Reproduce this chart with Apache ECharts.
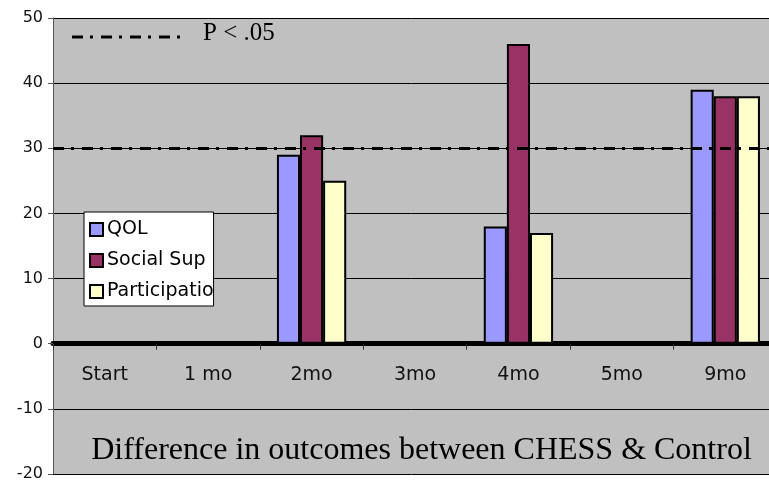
<!DOCTYPE html>
<html>
<head>
<meta charset="utf-8">
<script src="https://cdn.jsdelivr.net/npm/echarts@6/dist/echarts.min.js"></script>
<style>
html,body{margin:0;padding:0;background:#fff;}
#c{width:769px;height:483px;}
</style>
</head>
<body>
<div id="c"></div>
<script>
const categories = ['Start', '1 mo', '2mo', '3mo', '4mo', '5mo', '9mo'];
const qol = [0, 0, 29, 0, 18, 0, 39];
const socialSup = [0, 0, 32, 0, 46, 0, 38];
const participation = [0, 0, 25, 0, 17, 0, 38];
const pThreshold = 30;
const yTicks = { min: -20, max: 50, interval: 10 };
const chartTitle = 'Difference in outcomes between CHESS & Control';
const pLabel = 'P < .05';

const chart = echarts.init(document.getElementById('c'), null, { renderer: 'canvas' });
const dash = [11, 7, 3, 8];
const barBase = { type: 'bar', barGap: '0%', barCategoryGap: '33%' };

const gridTop = 18, gridHeight = 456;
// pixel distance from grid bottom to the zero line, derived from the y scale
const zeroOffset = gridHeight * (0 - yTicks.min) / (yTicks.max - yTicks.min);

chart.setOption({
  animation: false,
  grid: {
    left: 53, top: gridTop, width: 724, height: gridHeight,
    outerBoundsMode: 'none', containLabel: false,
    show: true, backgroundColor: '#c0c0c0', borderWidth: 0
  },
  legend: {
    orient: 'vertical', left: 84, top: 212,
    backgroundColor: '#ffffff', borderColor: '#000', borderWidth: 1,
    padding: [8, 0, 5, 5],
    itemWidth: 13, itemHeight: 13, itemGap: 12,
    icon: 'rect',
    textStyle: { fontFamily: 'DejaVu Sans', fontSize: 19, color: '#000', padding: [0, 0, 0, -1],
      width: 116, overflow: 'truncate', ellipsis: '' },
    data: ['QOL', 'Social Sup', 'Participation']
  },
  xAxis: [{
    type: 'category', data: categories,
    axisLine: { onZero: true, lineStyle: { color: '#000', width: 5 } },
    axisTick: { show: true, length: 6, lineStyle: { color: '#333', width: 1 } },
    axisLabel: { show: false },
    splitLine: { show: false }
  }, {
    type: 'category', data: categories, position: 'bottom', offset: -zeroOffset,
    axisLine: { show: false, onZero: false },
    axisTick: { show: false },
    axisLabel: { margin: 22, fontFamily: 'DejaVu Sans', fontSize: 19, color: '#111' },
    splitLine: { show: false }
  }],
  yAxis: {
    type: 'value', min: yTicks.min, max: yTicks.max, interval: yTicks.interval,
    axisLine: { show: true, lineStyle: { color: '#555', width: 1 } },
    axisTick: { show: true, length: 5, lineStyle: { color: '#555' } },
    axisLabel: { margin: 10, fontFamily: 'DejaVu Sans', fontSize: 16, color: '#111' },
    splitLine: { show: true, lineStyle: { color: '#000', width: 1 } }
  },
  series: [
    Object.assign({}, barBase, {
      name: 'QOL', data: qol,
      itemStyle: { color: '#9999ff', borderColor: '#000', borderWidth: 2 },
      markLine: {
        silent: true, symbol: 'none', label: { show: false },
        lineStyle: { color: '#000', width: 3, type: dash },
        data: [{ yAxis: pThreshold }]
      }
    }),
    Object.assign({}, barBase, {
      name: 'Social Sup', data: socialSup,
      itemStyle: { color: '#993366', borderColor: '#000', borderWidth: 2 }
    }),
    Object.assign({}, barBase, {
      name: 'Participation', data: participation,
      itemStyle: { color: '#ffffcc', borderColor: '#000', borderWidth: 2 }
    })
  ],
  graphic: [
    { type: 'line', shape: { x1: 72, y1: 37, x2: 182, y2: 37 },
      style: { stroke: '#000', lineWidth: 3, lineDash: dash }, z: 100 },
    { type: 'text', x: 203, y: 33, z: 100,
      style: { text: pLabel, font: '25px "Liberation Serif"', fill: '#000', verticalAlign: 'middle' } },
    { type: 'text', x: 421.5, y: 451, z: 100,
      style: { text: chartTitle, font: '32px "Liberation Serif"', fill: '#000', align: 'center', verticalAlign: 'middle' } }
  ]
});
</script>
</body>
</html>
